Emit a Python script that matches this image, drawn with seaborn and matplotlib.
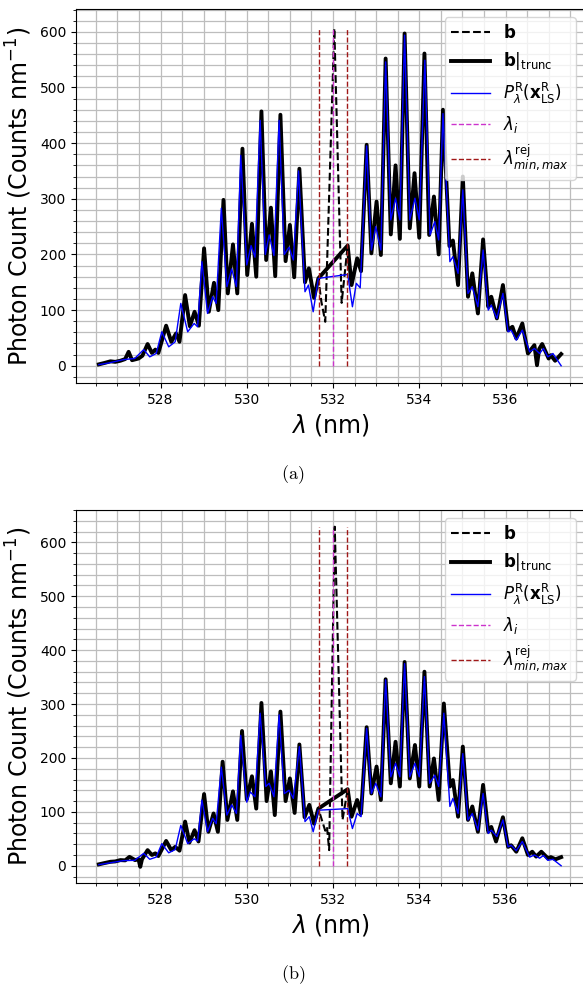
import numpy as np
import pandas as pd
import matplotlib
matplotlib.use("Agg")
import matplotlib.pyplot as plt
from matplotlib.ticker import MultipleLocator
import seaborn as sns

# ---------------- data: panel (a) ----------------
lam_b_a = [526.57, 526.70, 526.84, 526.95, 527.07, 527.18, 527.26, 527.34, 527.49, 527.58,
           527.70, 527.80, 527.88, 527.95, 528.13, 528.25, 528.36, 528.44, 528.57, 528.68,
           528.79, 528.89, 529.01, 529.12, 529.24, 529.34, 529.46, 529.56, 529.68, 529.78,
           529.90, 530.01, 530.12, 530.22, 530.34, 530.45, 530.56, 530.66, 530.78, 530.90,
           531.00, 531.10, 531.22, 531.35, 531.44, 531.56, 531.66, 531.73, 531.82, 532.03,
           532.20, 532.34, 532.43, 532.56, 532.65, 532.78, 532.89, 533.01, 533.11, 533.22,
           533.34, 533.45, 533.55, 533.66, 533.78, 533.89, 534.00, 534.12, 534.23, 534.34,
           534.45, 534.55, 534.70, 534.78, 534.90, 535.01, 535.13, 535.23, 535.36, 535.48,
           535.60, 535.67, 535.80, 535.94, 536.06, 536.16, 536.25, 536.39, 536.52, 536.67,
           536.73, 536.78, 536.85, 537.00, 537.05, 537.15, 537.29]
b_a = [2.5, 5, 8, 7, 9, 12, 25, 10, 13, 18,
       39, 23, 29, 23, 72, 43, 58, 43, 127, 71,
       97, 72, 211, 97, 149, 100, 298, 130, 218, 130,
       390, 163, 255, 160, 457, 190, 284, 161, 451, 188,
       253, 159, 354, 150, 175, 122, 157, 115, 79, 606,
       113, 216, 145, 193, 170, 397, 202, 295, 199, 552,
       236, 360, 228, 597, 247, 346, 230, 561, 235, 304,
       200, 460, 215, 225, 145, 340, 124, 166, 94, 227,
       106, 124, 85, 145, 64, 70, 49, 76, 22, 37,
       1, 30, 39, 13, 19, 9, 21]

lam_m_a = [526.57, 526.80, 527.14, 527.40, 527.61, 527.75, 527.90, 528.03, 528.19, 528.34,
           528.47, 528.63, 528.78, 528.86, 528.96, 529.09, 529.21, 529.29, 529.41, 529.54,
           529.65, 529.76, 529.86, 530.00, 530.10, 530.19, 530.31, 530.43, 530.52, 530.63,
           530.75, 530.87, 530.98, 531.08, 531.20, 531.35, 531.43, 531.54, 531.66, 532.34,
           532.45, 532.54, 532.63, 532.78, 532.89, 532.99, 533.11, 533.22, 533.34, 533.45,
           533.55, 533.66, 533.78, 533.90, 534.00, 534.13, 534.25, 534.36, 534.45, 534.55,
           534.71, 534.78, 534.90, 535.01, 535.13, 535.23, 535.36, 535.48, 535.60, 535.67,
           535.80, 535.94, 536.06, 536.13, 536.25, 536.39, 536.56, 536.67, 536.79, 536.88,
           536.98, 537.10, 537.29]
m_a = [2, 5, 11, 13, 29, 16, 22, 61, 34, 43,
       112, 61, 76, 70, 187, 94, 124, 112, 283, 142,
       174, 142, 378, 181, 216, 195, 441, 200, 235, 198,
       441, 200, 213, 190, 350, 133, 145, 97, 157, 164,
       106, 148, 140, 395, 208, 250, 208, 546, 262, 301,
       262, 594, 262, 301, 262, 549, 235, 259, 226, 453,
       187, 196, 166, 316, 130, 142, 106, 208, 100, 109,
       85, 130, 61, 64, 46, 64, 25, 31, 22, 31,
       16, 22, 0]

# ---------------- data: panel (b) ----------------
lam_b_b = [526.57, 526.70, 526.84, 526.95, 527.07, 527.18, 527.28, 527.41, 527.49, 527.53,
           527.57, 527.70, 527.80, 527.88, 527.95, 528.13, 528.25, 528.34, 528.44, 528.57,
           528.67, 528.79, 528.88, 529.01, 529.11, 529.23, 529.33, 529.44, 529.55, 529.68,
           529.78, 529.89, 530.00, 530.12, 530.22, 530.34, 530.46, 530.56, 530.65, 530.78,
           530.90, 531.00, 531.11, 531.22, 531.34, 531.45, 531.56, 531.66, 531.76, 531.82,
           531.86, 531.91, 532.04, 532.22, 532.34, 532.43, 532.56, 532.65, 532.78, 532.89,
           533.01, 533.11, 533.22, 533.34, 533.45, 533.55, 533.66, 533.78, 533.90, 534.00,
           534.12, 534.24, 534.34, 534.45, 534.57, 534.71, 534.78, 534.90, 535.01, 535.13,
           535.23, 535.36, 535.48, 535.60, 535.67, 535.78, 535.94, 536.06, 536.13, 536.25,
           536.39, 536.52, 536.62, 536.71, 536.83, 536.98, 537.05, 537.16, 537.29]
b_b = [2.6, 5, 7.4, 8, 10.5, 10, 16.5, 10.5, 12, -2,
       12, 29, 20, 23, 18, 46, 29, 35, 28, 82,
       43, 66, 45, 133, 63, 97, 63, 193, 85, 138,
       85, 250, 123, 166, 106, 302, 120, 175, 94, 286,
       120, 162, 98, 225, 90, 113, 78, 106, 80, 65,
       72, 29, 629, 85, 142, 91, 122, 97, 257, 134,
       184, 122, 346, 153, 230, 147, 378, 162, 224, 147,
       360, 147, 199, 122, 301, 147, 159, 91, 221, 85,
       110, 63, 150, 63, 72, 45, 90, 35, 38, 26,
       51, 20, 26, 17, 26, 14, 16, 12, 16]

lam_m_b = [526.57, 526.80, 527.14, 527.40, 527.61, 527.75, 527.90, 528.03, 528.19, 528.34,
           528.47, 528.63, 528.78, 528.86, 528.96, 529.09, 529.21, 529.29, 529.41, 529.54,
           529.65, 529.76, 529.86, 530.00, 530.08, 530.19, 530.31, 530.44, 530.52, 530.63,
           530.75, 530.87, 530.98, 531.08, 531.22, 531.35, 531.45, 531.54, 531.66, 532.34,
           532.45, 532.56, 532.65, 532.78, 532.89, 532.99, 533.11, 533.22, 533.34, 533.45,
           533.55, 533.66, 533.78, 533.90, 534.00, 534.12, 534.24, 534.36, 534.45, 534.57,
           534.71, 534.78, 534.90, 535.01, 535.13, 535.23, 535.36, 535.48, 535.60, 535.67,
           535.80, 535.94, 536.06, 536.13, 536.25, 536.39, 536.56, 536.67, 536.79, 536.88,
           536.98, 537.10, 537.29]
m_b = [2, 5, 9.5, 10, 23, 12, 16, 41, 24, 30,
       75, 41, 50, 46, 122, 63, 88, 78, 183, 94,
       113, 97, 242, 118, 137, 128, 283, 147, 153, 128,
       280, 134, 140, 125, 221, 82, 91, 63, 103, 106,
       69, 97, 91, 255, 134, 153, 128, 345, 165, 190,
       165, 375, 165, 190, 165, 351, 153, 168, 147, 283,
       110, 125, 97, 208, 85, 97, 66, 134, 60, 66,
       54, 85, 35, 38, 28, 45, 16, 20, 14, 19,
       10, 12, 0]

lam_i = 532.0
lam_rej = [531.67, 532.33]

labels = [r'$\mathbf{b}$', r'$\mathbf{b}|_{\mathrm{trunc}}$',
          r'$P_\lambda^{\mathrm{R}}(\mathbf{x}_{\mathrm{LS}}^{\mathrm{R}})$',
          r'$\lambda_i$', r'$\lambda_{min,max}^{\mathrm{rej}}$']

plt.rcParams['font.family'] = ['DejaVu Sans']

fig = plt.figure(figsize=(5.83, 9.89), dpi=100)
L, R = 76 / 583, 584 / 583
ax_a = fig.add_axes([L, 1 - 383 / 989, R - L, (383 - 9) / 989])
ax_b = fig.add_axes([L, 1 - 883 / 989, R - L, (883 - 510) / 989])

MAG = '#cc33cc'
RED = '#a01818'


def draw(ax, lam_b, b, lam_m, m, ylim):
    df_b = pd.DataFrame({'lam': lam_b, 'val': b})
    df_t = df_b[(df_b.lam < lam_rej[0]) | (df_b.lam > lam_rej[1])]
    df_m = pd.DataFrame({'lam': lam_m, 'val': m})
    sns.lineplot(data=df_b, x='lam', y='val', ax=ax, color='black', lw=1.5,
                 linestyle='--', label=labels[0], estimator=None, sort=False)
    sns.lineplot(data=df_t, x='lam', y='val', ax=ax, color='black', lw=2.8,
                 label=labels[1], estimator=None, sort=False)
    sns.lineplot(data=df_m, x='lam', y='val', ax=ax, color='#0000ff', lw=1.0,
                 label=labels[2], estimator=None, sort=False)
    top = max(b)
    ax.plot([lam_i, lam_i], [0, top], color=MAG, ls='--', lw=1.0, label=labels[3])
    for k, xr in enumerate(lam_rej):
        ax.plot([xr, xr], [0, top], color=RED, ls='--', lw=1.0,
                label=labels[4] if k == 0 else None)
    ax.set_xlim(526.04, 537.82)
    ax.set_ylim(*ylim)
    ax.xaxis.set_major_locator(MultipleLocator(2))
    ax.xaxis.set_minor_locator(MultipleLocator(0.5))
    ax.yaxis.set_major_locator(MultipleLocator(100))
    ax.yaxis.set_minor_locator(MultipleLocator(20))
    ax.grid(which='both', color='#bdbdbd', lw=0.9)
    ax.set_axisbelow(True)
    ax.tick_params(labelsize=10)
    ax.set_xlabel(r'$\lambda$ (nm)', fontsize=17)
    ax.set_ylabel('Photon Count (Counts nm$^{-1}$)', fontsize=17)
    ax.legend(loc='upper right', fontsize=12, handlelength=2.3)


draw(ax_a, lam_b_a, b_a, lam_m_a, m_a, (-31, 641))
draw(ax_b, lam_b_b, b_b, lam_m_b, m_b, (-32, 660))

fig.text(293 / 583, 1 - 475 / 989, r'$\mathrm{(a)}$', ha='center', va='center',
         fontsize=13, math_fontfamily='cm')
fig.text(293 / 583, 1 - 975 / 989, r'$\mathrm{(b)}$', ha='center', va='center',
         fontsize=13, math_fontfamily='cm')

fig.savefig('out.png', dpi=100)
